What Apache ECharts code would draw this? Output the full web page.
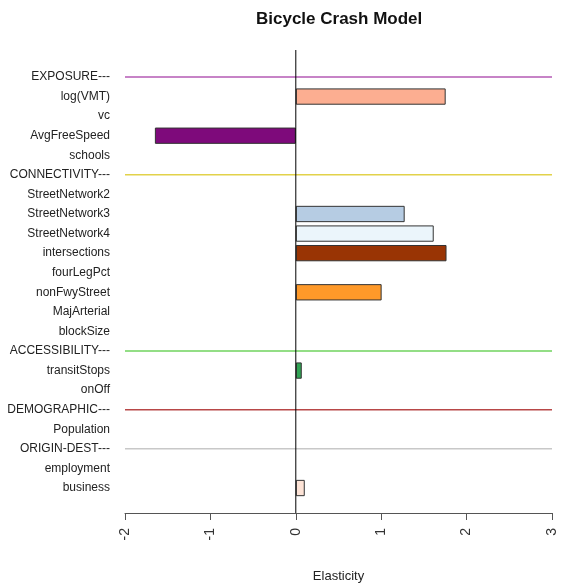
<!DOCTYPE html>
<html>
<head>
<meta charset="utf-8">
<script src="https://cdn.jsdelivr.net/npm/echarts@6/dist/echarts.min.js"></script>
<style>
  html, body { margin: 0; padding: 0; background: #fff; }
  #chart { width: 564px; height: 585px; }
</style>
</head>
<body>
<div id="chart"></div>
<script>
// variables, top to bottom
const categories = [
  'EXPOSURE---', 'log(VMT)', 'vc', 'AvgFreeSpeed', 'schools',
  'CONNECTIVITY---', 'StreetNetwork2', 'StreetNetwork3', 'StreetNetwork4',
  'intersections', 'fourLegPct', 'nonFwyStreet', 'MajArterial', 'blockSize',
  'ACCESSIBILITY---', 'transitStops', 'onOff',
  'DEMOGRAPHIC---', 'Population',
  'ORIGIN-DEST---', 'employment', 'business'
]
// elasticity per variable (null = no bar)
const elasticity = [
  null, 1.755, null, -1.65, null,
  null, null, 1.275, 1.615,
  1.765, null, 1.005, null, null,
  null, 0.07, null,
  null, null,
  null, null, 0.105
]
const groupHeaders = ['EXPOSURE---', 'CONNECTIVITY---', 'ACCESSIBILITY---', 'DEMOGRAPHIC---', 'ORIGIN-DEST---']
const xTicks = [-2, -1, 0, 1, 2, 3]

// styles
const barColors = {
  'log(VMT)': '#fcae91',
  'AvgFreeSpeed': '#7e0a7b',
  'StreetNetwork3': '#b6cce3',
  'StreetNetwork4': '#ebf5fb',
  'intersections': '#993404',
  'nonFwyStreet': '#fe9929',
  'transitStops': '#31a354',
  'business': '#fde3d6'
}
const headerColors = ['#b45ab4', '#e2d24a', '#6fd35e', '#b84848', '#c8c8c8']

const xMin = xTicks[0]
const xMax = xTicks[xTicks.length - 1]

const chart = echarts.init(document.getElementById('chart'))

const barData = elasticity.map((v, i) => ({
  value: v,
  itemStyle: { color: barColors[categories[i]] || '#ccc' }
}))

// one horizontal rule per group header
const headerSeries = groupHeaders.map((h, i) => ({
  type: 'line',
  xAxisIndex: 0,
  yAxisIndex: 0,
  data: [[xMin, h], [xMax, h]],
  symbol: 'none',
  silent: true,
  lineStyle: { color: headerColors[i], width: 1.5 },
  z: 1
}))

const option = {
  animation: false,
  textStyle: { fontFamily: 'Liberation Sans, Arial, sans-serif' },
  title: {
    text: 'Bicycle Crash Model',
    left: 251,
    top: 6,
    textStyle: { fontSize: 17, fontWeight: 'bold', color: '#111' }
  },
  grid: [
    { left: 125, right: 12, top: 67.2, bottom: 87.2, outerBoundsMode: 'none' },
    { left: 125, right: 12, top: 50, bottom: 72, outerBoundsMode: 'none' }
  ],
  xAxis: [
    { gridIndex: 0, type: 'value', min: xMin, max: xMax, show: false },
    {
      gridIndex: 1,
      type: 'value',
      min: xMin,
      max: xMax,
      interval: 1,
      splitLine: { show: false },
      axisLine: { lineStyle: { color: '#555', width: 1 } },
      axisTick: { length: 7, lineStyle: { color: '#555' } },
      axisLabel: { rotate: 90, fontSize: 14, color: '#333', margin: 15 },
      name: 'Elasticity',
      nameLocation: 'middle',
      nameGap: 57,
      nameTextStyle: { fontSize: 13, color: '#222' }
    }
  ],
  yAxis: [
    {
      gridIndex: 0,
      type: 'category',
      inverse: true,
      data: categories,
      axisLine: { show: false },
      axisTick: { show: false },
      axisLabel: { fontSize: 12, color: '#222', margin: 15 }
    },
    { gridIndex: 1, type: 'value', min: 0, max: 1, show: false }
  ],
  series: [
    {
      type: 'bar',
      xAxisIndex: 0,
      yAxisIndex: 0,
      data: barData,
      barCategoryGap: '16.7%',
      itemStyle: { borderColor: '#333', borderWidth: 1 },
      z: 3
    },
    ...headerSeries,
    {
      // zero reference line
      type: 'line',
      xAxisIndex: 1,
      yAxisIndex: 1,
      data: [[0, 0], [0, 1]],
      symbol: 'none',
      silent: true,
      lineStyle: { color: '#000', width: 1 },
      z: 4
    }
  ]
}

chart.setOption(option)
</script>
</body>
</html>
